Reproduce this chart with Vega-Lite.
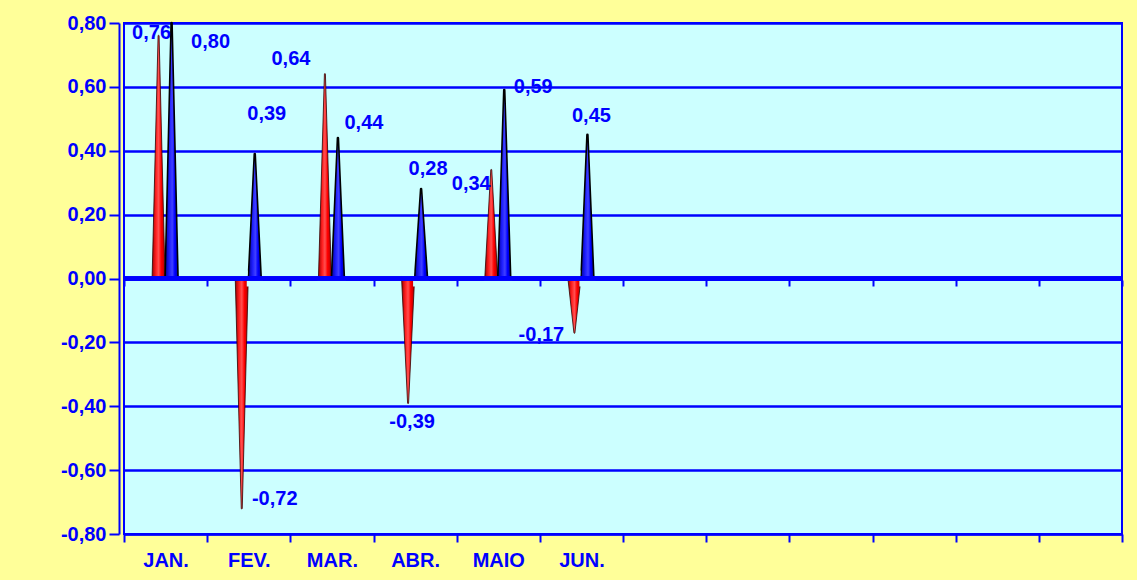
{
  "$schema": "https://vega.github.io/schema/vega-lite/v6.json",
  "width": 998,
  "height": 511,
  "autosize": {"type": "none"},
  "padding": {"left": 124, "top": 23, "right": 15, "bottom": 46},
  "background": "#FFFF99",
  "config": {
    "locale": {"number": {"decimal": ",", "thousands": ".", "grouping": [3], "currency": ["", ""], "minus": "-"}},
    "font": "Liberation Sans",
    "view": {"fill": "#CCFFFF", "stroke": "#0000FF", "strokeWidth": 2},
    "axis": {
      "labelFont": "Liberation Sans",
      "labelFontSize": 20,
      "labelFontWeight": "bold",
      "labelColor": "#0000FF",
      "domainColor": "#0000FF",
      "domainWidth": 2,
      "tickColor": "#0000FF",
      "tickWidth": 2,
      "title": null
    },
    "text": {"font": "Liberation Sans", "fontSize": 20, "fontWeight": "bold", "fill": "#0000FF", "baseline": "middle", "align": "center"}
  },
  "data": {
    "values": [
      {"mes": "JAN.", "serie": "A", "valor": 0.76},
      {"mes": "JAN.", "serie": "B", "valor": 0.80},
      {"mes": "FEV.", "serie": "A", "valor": -0.72},
      {"mes": "FEV.", "serie": "B", "valor": 0.39},
      {"mes": "MAR.", "serie": "A", "valor": 0.64},
      {"mes": "MAR.", "serie": "B", "valor": 0.44},
      {"mes": "ABR.", "serie": "A", "valor": -0.39},
      {"mes": "ABR.", "serie": "B", "valor": 0.28},
      {"mes": "MAIO", "serie": "A", "valor": 0.34},
      {"mes": "MAIO", "serie": "B", "valor": 0.59},
      {"mes": "JUN.", "serie": "A", "valor": -0.17},
      {"mes": "JUN.", "serie": "B", "valor": 0.45}
    ]
  },
  "layer": [
    {
      "transform": [
        {"fold": ["valor"], "as": ["ponto", "y"]},
        {"impute": "y", "key": "ponto", "keyvals": ["base", "valor"], "groupby": ["mes", "serie"], "value": 0}
      ],
      "encoding": {
        "x": {
          "field": "mes",
          "type": "nominal",
          "title": null,
          "scale": {
            "domain": ["JAN.", "FEV.", "MAR.", "ABR.", "MAIO", "JUN.", "JUL.", "AGO.", "SET.", "OUT.", "NOV.", "DEZ."],
            "paddingInner": 0,
            "paddingOuter": 0
          },
          "axis": {
            "tickBand": "extent",
            "labelAngle": 0,
            "labelExpr": "indexof(['JUL.','AGO.','SET.','OUT.','NOV.','DEZ.'], datum.value) >= 0 ? '' : datum.label",
            "tickSize": 8,
            "labelPadding": 8,
            "offset": 0,
            "grid": false
          }
        },
        "y": {
          "field": "y",
          "type": "quantitative",
          "title": null,
          "scale": {"domain": [-0.8, 0.8], "nice": false, "zero": false},
          "axis": {
            "values": [-0.8, -0.6, -0.4, -0.2, 0, 0.2, 0.4, 0.6, 0.8],
            "format": ".2f",
            "grid": true,
            "gridColor": "#0000FF",
            "gridWidth": 2.5,
            "gridOpacity": 1,
            "tickSize": 10,
            "labelPadding": 3,
            "offset": 5
          }
        },
        "size": {"field": "ponto", "type": "nominal", "scale": {"domain": ["base", "valor"], "range": [13, 0]}, "legend": null},
        "order": {"field": "ponto"},
        "detail": {"field": "mes"}
      },
      "layer": [
        {
          "transform": [{"filter": "datum.serie == 'A'"}],
          "mark": {
            "type": "trail",
            "fill": {"gradient": "linear", "x1": 0, "y1": 0, "x2": 1, "y2": 0, "stops": [
              {"offset": 0, "color": "#A00000"},
              {"offset": 0.3, "color": "#FF2020"},
              {"offset": 0.5, "color": "#FF5050"},
              {"offset": 0.7, "color": "#FF0000"},
              {"offset": 1, "color": "#B00000"}
            ]},
            "stroke": "#300000",
            "strokeWidth": 0.8,
            "xOffset": -7
          }
        },
        {
          "transform": [{"filter": "datum.serie == 'B'"}],
          "mark": {
            "type": "trail",
            "fill": {"gradient": "linear", "x1": 0, "y1": 0, "x2": 1, "y2": 0, "stops": [
              {"offset": 0, "color": "#0000A0"},
              {"offset": 0.35, "color": "#2020FF"},
              {"offset": 0.55, "color": "#4040FF"},
              {"offset": 0.75, "color": "#0000FF"},
              {"offset": 1, "color": "#0000B0"}
            ]},
            "stroke": "#000000",
            "strokeWidth": 1.6,
            "xOffset": 6
          }
        }
      ]
    },
    {
      "encoding": {
        "x": {"field": "mes", "type": "nominal", "axis": null},
        "y": {"datum": 0},
        "y2": {"datum": -0.025}
      },
      "layer": [
        {
          "transform": [{"filter": "datum.serie == 'A' && datum.valor > 0"}],
          "mark": {"type": "bar", "fill": "#CCFFFF", "width": 15, "xOffset": -7}
        },
        {
          "transform": [{"filter": "datum.serie == 'B' && datum.valor > 0"}],
          "mark": {"type": "bar", "fill": "#CCFFFF", "width": 16, "xOffset": 6}
        }
      ]
    },
    {
      "transform": [{"filter": "datum.valor < 0"}],
      "mark": {"type": "bar", "fill": "#CCFFFF", "width": 13, "xOffset": -7.5},
      "encoding": {
        "x": {"field": "mes", "type": "nominal", "axis": null},
        "y": {"datum": 0},
        "y2": {"datum": 0.025}
      }
    },
    {
      "mark": {"type": "rule", "color": "#0000FF", "strokeWidth": 3.5},
      "encoding": {"y": {"datum": 0}}
    },
    {
      "encoding": {
        "x": {
          "field": "mes",
          "type": "nominal",
          "axis": {"orient": "bottom", "offset": -254, "labels": false, "domain": false, "grid": false, "tickBand": "extent", "tickSize": 6, "tickWidth": 2}
        },
        "y": {"field": "valor", "type": "quantitative", "title": null},
        "text": {"field": "valor", "type": "quantitative", "format": ".2f"}
      },
      "layer": [
        {"transform": [{"filter": "datum.mes == 'JAN.' && datum.serie == 'A'"}], "mark": {"type": "text", "dx": -14, "dy": -3}},
        {"transform": [{"filter": "datum.mes == 'JAN.' && datum.serie == 'B'"}], "mark": {"type": "text", "dx": 45, "dy": 19}},
        {"transform": [{"filter": "datum.mes == 'FEV.' && datum.serie == 'A'"}], "mark": {"type": "text", "dx": 26, "dy": -9}},
        {"transform": [{"filter": "datum.mes == 'FEV.' && datum.serie == 'B'"}], "mark": {"type": "text", "dx": 18, "dy": -40}},
        {"transform": [{"filter": "datum.mes == 'MAR.' && datum.serie == 'A'"}], "mark": {"type": "text", "dx": -41, "dy": -15}},
        {"transform": [{"filter": "datum.mes == 'MAR.' && datum.serie == 'B'"}], "mark": {"type": "text", "dx": 32, "dy": -15}},
        {"transform": [{"filter": "datum.mes == 'ABR.' && datum.serie == 'A'"}], "mark": {"type": "text", "dx": -3, "dy": 19}},
        {"transform": [{"filter": "datum.mes == 'ABR.' && datum.serie == 'B'"}], "mark": {"type": "text", "dx": 13, "dy": -20}},
        {"transform": [{"filter": "datum.mes == 'MAIO' && datum.serie == 'A'"}], "mark": {"type": "text", "dx": -27, "dy": 14}},
        {"transform": [{"filter": "datum.mes == 'MAIO' && datum.serie == 'B'"}], "mark": {"type": "text", "dx": 35, "dy": -3}},
        {"transform": [{"filter": "datum.mes == 'JUN.' && datum.serie == 'A'"}], "mark": {"type": "text", "dx": -40, "dy": 2}},
        {"transform": [{"filter": "datum.mes == 'JUN.' && datum.serie == 'B'"}], "mark": {"type": "text", "dx": 10, "dy": -19}}
      ]
    }
  ],
  "resolve": {"axis": {"x": "independent"}}
}
